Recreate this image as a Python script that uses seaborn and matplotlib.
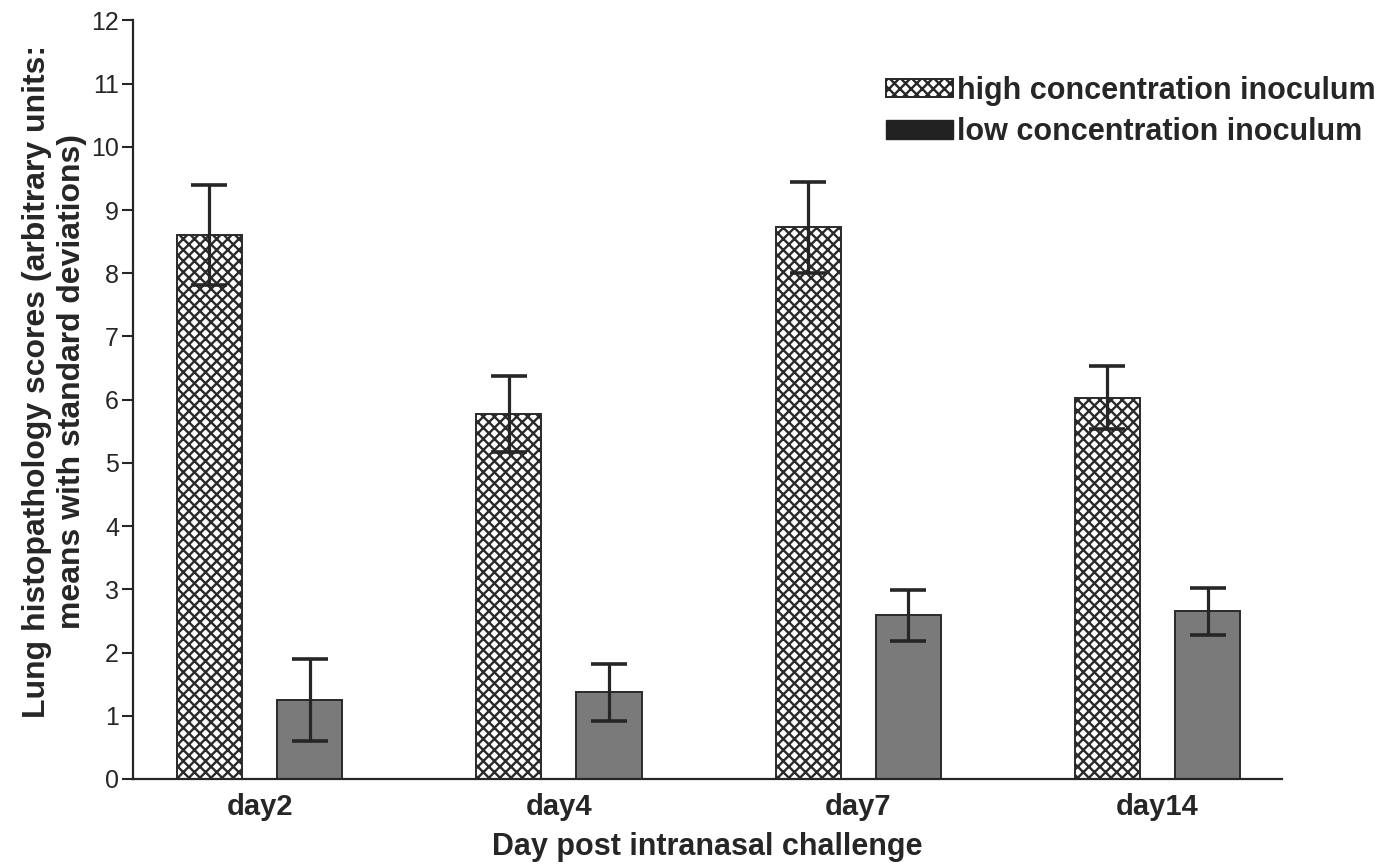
import matplotlib
matplotlib.use("Agg")
import matplotlib.pyplot as plt
import seaborn as sns
import pandas as pd
from matplotlib.patches import Patch

days = ["day2", "day4", "day7", "day14"]
groups = ["high concentration inoculum", "low concentration inoculum"]
high_mean = [8.61, 5.77, 8.73, 6.03]
high_sd = [0.79, 0.60, 0.72, 0.50]
low_mean = [1.25, 1.37, 2.59, 2.65]
low_sd = [0.65, 0.45, 0.40, 0.37]
y_ticks = list(range(0, 13))

sns.set_style("ticks")
plt.rcParams["font.family"] = ["Liberation Sans", "DejaVu Sans"]
plt.rcParams["hatch.color"] = "#222222"
plt.rcParams["hatch.linewidth"] = 1.7

df = pd.DataFrame({
    "day": days * 2,
    "group": [groups[0]] * 4 + [groups[1]] * 4,
    "mean": high_mean + low_mean,
    "sd": high_sd + low_sd,
})

fig = plt.figure(figsize=(14, 8.66), dpi=100)
ax = fig.add_axes([0.095, 0.1005, 0.821, 0.876])

sns.barplot(data=df, x="day", y="mean", hue="group", order=days, hue_order=groups,
            palette=["white", "#7a7a7a"], edgecolor="#2a2a2a", linewidth=1.4,
            width=0.67, gap=0.35, errorbar=None, legend=False, ax=ax)

dark = "#262626"
bar_containers = list(ax.containers)
for gi, cont in enumerate(bar_containers):
    sub = df[df["group"] == groups[gi]].set_index("day").loc[days]
    xs = []
    for bar in cont:
        if gi == 0:
            bar.set_hatch("xxx")
        xs.append(bar.get_x() + bar.get_width() / 2)
    ax.errorbar(xs, sub["mean"].values, yerr=sub["sd"].values, fmt="none",
                ecolor=dark, elinewidth=2.3, capsize=13, capthick=2.6, zorder=5)

ax.set_ylim(0, 12)
ax.set_xlim(-0.423, 3.417)
ax.set_yticks(y_ticks)
ax.tick_params(axis="y", labelsize=18, length=8, width=1.5, color=dark, labelcolor=dark, pad=2)
ax.tick_params(axis="x", length=0, labelsize=21, labelcolor=dark, pad=10)
for lab in ax.get_xticklabels():
    lab.set_fontweight("bold")
for s in ["top", "right"]:
    ax.spines[s].set_visible(False)
for s in ["left", "bottom"]:
    ax.spines[s].set_color(dark)
    ax.spines[s].set_linewidth(1.6)

ax.set_xlabel("Day post intranasal challenge", fontsize=22, fontweight="bold", color=dark, labelpad=8)
ax.set_ylabel("Lung histopathology scores (arbitrary units:\nmeans with standard deviations)",
              fontsize=23, fontweight="bold", color=dark, linespacing=1.22)
ax.yaxis.set_label_coords(-0.040, 0.524)

handles = [Patch(facecolor="white", edgecolor=dark, hatch="xxx", linewidth=1.4),
           Patch(facecolor="#222222", edgecolor="#222222")]
leg = ax.legend(handles, groups, loc="upper left", bbox_to_anchor=(0.655, 0.927),
                frameon=False, prop={"size": 22, "weight": "bold"},
                handlelength=2.2, handleheight=0.55, handletextpad=0.12,
                labelspacing=0.38, borderpad=0, borderaxespad=0)
for t in leg.get_texts():
    t.set_color(dark)

fig.savefig("out.png", dpi=100)
